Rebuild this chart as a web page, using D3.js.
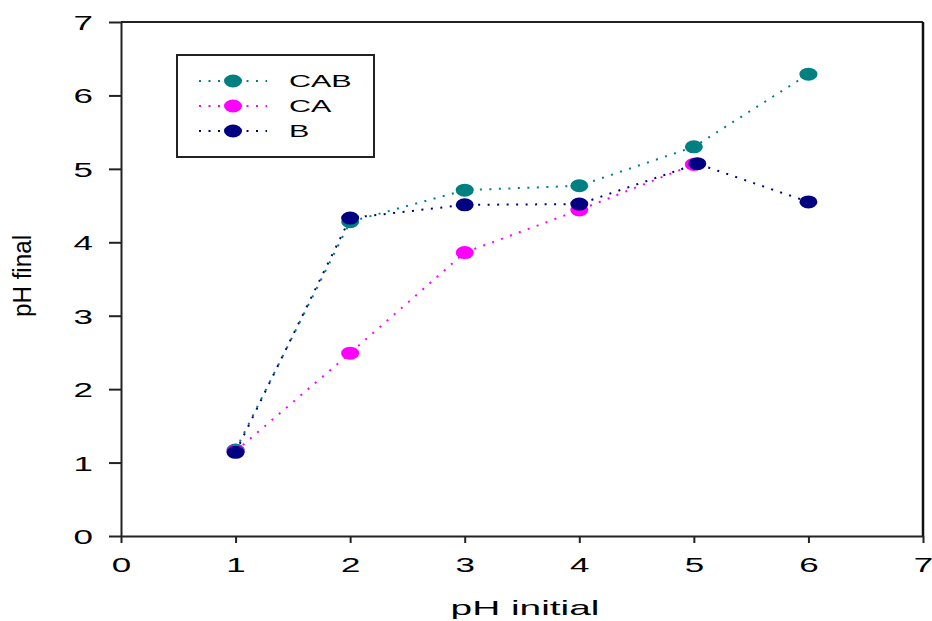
<!DOCTYPE html>
<html>
<head>
<meta charset="utf-8">
<script src="https://cdn.jsdelivr.net/npm/d3@7"></script>
<style>
  html, body { margin: 0; padding: 0; background: #fff; }
  svg { display: block; font-family: "Liberation Sans", Arial, sans-serif; }
</style>
</head>
<body>
<svg id="chart" width="932" height="621"></svg>
<script>
// ---- data ----
const seriesNames = ["CAB", "CA", "B"];
const seriesColors = ["#008080", "#ff00ff", "#000080"];
const xCAB = [1, 2, 3, 4, 5, 6];
const yCAB = [1.17, 4.28, 4.71, 4.77, 5.30, 6.29];
const xCA = [1, 2, 3, 4, 5];
const yCA = [1.155, 2.49, 3.86, 4.44, 5.06];
const xB = [1, 2, 3, 4, 5.03, 6];
const yB = [1.14, 4.33, 4.51, 4.52, 5.07, 4.55];
const xTicks = [0, 1, 2, 3, 4, 5, 6, 7];
const yTicks = [0, 1, 2, 3, 4, 5, 6, 7];
const xTitle = "pH initial";
const yTitle = "pH final";

const series = [
  { name: seriesNames[0], color: seriesColors[0], xs: xCAB, ys: yCAB },
  { name: seriesNames[1], color: seriesColors[1], xs: xCA, ys: yCA },
  { name: seriesNames[2], color: seriesColors[2], xs: xB, ys: yB }
];

// ---- layout ----
const L = 121, R = 923, T = 22, B = 536;
const SX = 1.75; // horizontal text stretch
const svg = d3.select("#chart");

const x = d3.scaleLinear().domain([0, 7]).range([L, R]);
const y = d3.scaleLinear().domain([0, 7]).range([B, T]);

// frame (top + right)
svg.append("line").attr("x1", L).attr("x2", R).attr("y1", T).attr("y2", T)
  .attr("stroke", "#222").attr("stroke-width", 2);
svg.append("line").attr("x1", R).attr("x2", R).attr("y1", T).attr("y2", B)
  .attr("stroke", "#111").attr("stroke-width", 2.5);

// axes
const xAxis = svg.append("g").attr("transform", `translate(0,${B})`)
  .call(d3.axisBottom(x).tickValues(xTicks).tickFormat(d3.format("d")).tickSizeInner(7).tickSizeOuter(0));
const yAxis = svg.append("g").attr("transform", `translate(${L},0)`)
  .call(d3.axisLeft(y).tickValues(yTicks).tickFormat(d3.format("d")).tickSizeInner(12).tickSizeOuter(0));

[xAxis, yAxis].forEach(g => {
  g.select(".domain").attr("stroke", "#222").attr("stroke-width", 2);
  g.selectAll(".tick line").attr("stroke", "#222").attr("stroke-width", 2);
  g.selectAll(".tick text").attr("fill", "#000").attr("font-size", 20)
    .attr("font-family", "'Liberation Sans', Arial, sans-serif");
});
xAxis.selectAll(".tick text")
  .attr("y", null).attr("dy", null)
  .attr("transform", `translate(0,36) scale(${SX},1)`);
yAxis.selectAll(".tick text")
  .attr("x", null).attr("dy", null).attr("text-anchor", "end")
  .attr("transform", `translate(-28,7.5) scale(${SX},1)`);

// lines + markers
const line = d3.line().x(d => x(d[0])).y(d => y(d[1]));
series.forEach(s => {
  const pts = s.xs.map((v, i) => [v, s.ys[i]]);
  svg.append("path").datum(pts).attr("d", line)
    .attr("fill", "none").attr("stroke", s.color)
    .attr("stroke-width", 2).attr("stroke-dasharray", "2 7.5");
});
series.forEach(s => {
  const pts = s.xs.map((v, i) => [v, s.ys[i]]);
  svg.append("g").selectAll("ellipse").data(pts).join("ellipse")
    .attr("cx", d => x(d[0])).attr("cy", d => y(d[1]))
    .attr("rx", 9).attr("ry", 6.5).attr("fill", s.color);
});

// legend
const lg = svg.append("g");
lg.append("rect").attr("x", 177).attr("y", 55).attr("width", 197).attr("height", 102)
  .attr("fill", "#fff").attr("stroke", "#222").attr("stroke-width", 2);
series.forEach((s, i) => {
  const cy = 81 + i * 25;
  lg.append("line").attr("x1", 199).attr("x2", 267).attr("y1", cy).attr("y2", cy)
    .attr("stroke", s.color).attr("stroke-width", 2).attr("stroke-dasharray", "2 7.5");
  lg.append("ellipse").attr("cx", 233).attr("cy", cy).attr("rx", 9).attr("ry", 6.5).attr("fill", s.color);
  lg.append("text").attr("transform", `translate(289,${cy + 6}) scale(1.85,1)`)
    .attr("font-size", 16.5).attr("fill", "#000").text(s.name);
});

// axis titles
svg.append("text").attr("transform", `translate(525,615) scale(1.85,1)`)
  .attr("text-anchor", "middle").attr("font-size", 21).attr("fill", "#000").text(xTitle);
svg.append("text").attr("transform", `translate(31,276) rotate(-90)`)
  .attr("text-anchor", "middle").attr("font-size", 25).attr("fill", "#000")
  .attr("textLength", 82).attr("lengthAdjust", "spacingAndGlyphs").text(yTitle);
</script>
</body>
</html>
